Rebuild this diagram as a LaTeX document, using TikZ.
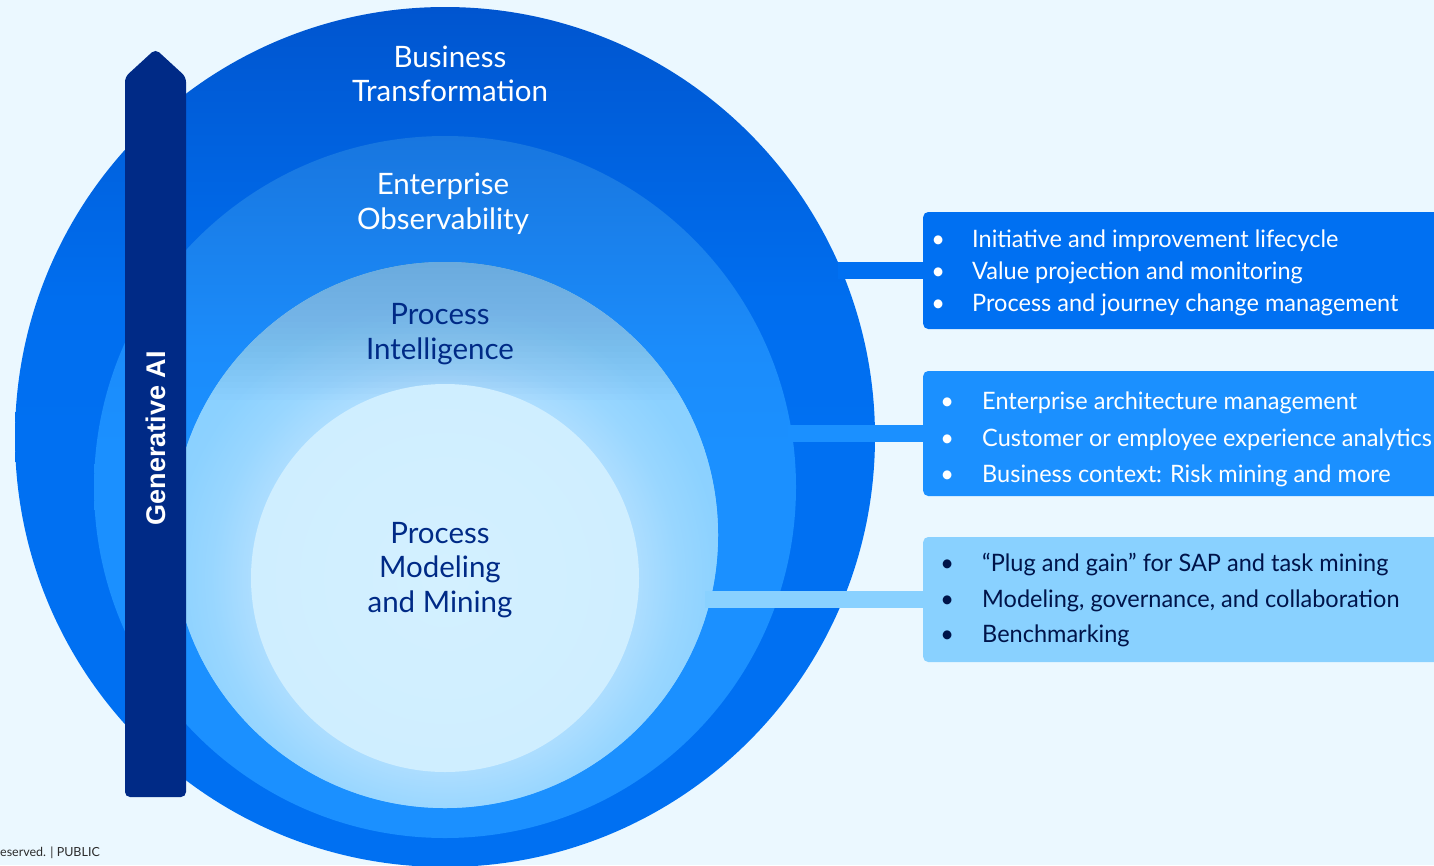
\documentclass[tikz,border=0pt]{standalone}
\usepackage{fontspec}
\setmainfont{Lato}
\newfontfamily\boxfont[FakeStretch=0.98]{Lato}
\newfontfamily\barfont{Liberation Sans}
\definecolor{bg}{HTML}{EBF8FF}
\definecolor{barblue}{HTML}{002A86}
\definecolor{boxa}{HTML}{0070F2}
\definecolor{boxb}{HTML}{1B90FF}
\definecolor{boxc}{HTML}{89D1FF}
\definecolor{navy}{HTML}{002A86}
\definecolor{deepnavy}{HTML}{00144A}
\definecolor{foot}{HTML}{2B2B2B}
\definecolor{etop}{HTML}{5E98D0}
\definecolor{fin}{HTML}{D3F0FF}
\definecolor{fout}{HTML}{CFEEFF}
\pgfdeclareverticalshading{ringA}{100bp}{%
  rgb(0bp)=(0,0.439,0.949); rgb(50bp)=(0,0.439,0.949); rgb(58bp)=(0,0.431,0.937);
  rgb(66.7bp)=(0,0.384,0.875); rgb(75bp)=(0,0.333,0.812); rgb(100bp)=(0,0.333,0.812)}
\pgfdeclareverticalshading{ringB}{100bp}{%
  rgb(0bp)=(0.106,0.565,1); rgb(52.6bp)=(0.106,0.565,1); rgb(59.8bp)=(0.106,0.549,0.984);
  rgb(66.9bp)=(0.102,0.510,0.933); rgb(75bp)=(0.094,0.463,0.875); rgb(100bp)=(0.094,0.463,0.875)}
\pgfdeclareradialshading{glow}{\pgfpoint{0bp}{0bp}}{%
  rgb(0bp)=(0.675,0.867,1); rgb(14.7bp)=(0.675,0.867,1); rgb(17.6bp)=(0.600,0.841,1);
  rgb(20.8bp)=(0.549,0.821,1); rgb(24.2bp)=(0.537,0.820,1); rgb(50bp)=(0.537,0.820,1)}
\begin{document}
\begin{tikzpicture}[x=1pt,y=-1pt,
  ring/.style={circle, inner sep=0pt, draw=none},
  lbl/.style={align=center, inner sep=0pt, font=\fontsize{29.5}{34.5}\selectfont},
  infobox/.style={anchor=west, rounded corners=5pt, minimum width=560pt, inner sep=0pt},
  boxtext/.style={anchor=west, align=left, inner sep=0pt},
  conn/.style={line width=17pt}
]
\useasboundingbox (0,0) rectangle (1434,865);
\fill[bg] (0,0) rectangle (1434,865);

% rings
\node[ring, minimum size=860pt, shade, shading=ringA] (c1) at (445,437) {};
\node[ring, minimum size=702pt, shade, shading=ringB] (c2) at (445,487) {};
\node[ring, minimum size=546pt, fill=boxc] (c3) at (445,535) {};
\begin{scope}
  \clip (c3.center) circle[radius=273];
  \shade[shading=glow] (445,578) circle[radius=330];
  \foreach \k in {1,...,23}
    \fill[etop, fill opacity=0.034] (150,250) rectangle (740,262+6*\k);
\end{scope}
\node[ring, minimum size=388pt, inner color=fin, outer color=fout] (c4) at (445,578) {};

% ring labels
\node[lbl, text=white] (l1) at (450,74) {Business\\Transformation};
\node[lbl, text=white] (l2) at (443,204) {Enterprise\\Observability};
\node[lbl, text=navy] (l3) at (440,334) {Process\\Intelligence};
\node[lbl, text=navy] (l4) at (440,570) {Process\\Modeling\\and Mining};

% connector ends
\coordinate (k1) at (838,270.5);
\coordinate (k2) at (788,433.5);
\coordinate (k3) at (705,599.5);

% info boxes
\node[infobox, fill=boxa, minimum height=117pt] (box1) at (923,270.5) {};
\node[infobox, fill=boxb, minimum height=125pt] (box2) at (923,433.5) {};
\node[infobox, fill=boxc, minimum height=125pt] (box3) at (923,599.5) {};

\draw[conn, boxa] (k1) -- (box1.west);
\draw[conn, boxb] (k2) -- (box2.west);
\draw[conn, boxc] (k3) -- (box3.west);

\node[boxtext, text=white, font=\boxfont\fontsize{24}{32}\selectfont] (t1) at (938,272.5)
 {\makebox[0pt][c]{•}\hspace{34pt}Initiative and improvement lifecycle\\
  \makebox[0pt][c]{•}\hspace{34pt}Value projection and monitoring\\
  \makebox[0pt][c]{•}\hspace{34pt}Process and journey change management};
\node[boxtext, text=white, font=\boxfont\fontsize{24}{36.5}\selectfont] (t2) at (947,439.5)
 {\makebox[0pt][c]{•}\hspace{35pt}Enterprise architecture management\\
  \makebox[0pt][c]{•}\hspace{35pt}Customer or employee experience analytics\\
  \makebox[0pt][c]{•}\hspace{35pt}Business context: Risk mining and more};
\node[boxtext, text=deepnavy, font=\boxfont\fontsize{24}{35.5}\selectfont] (t3) at (947,600.5)
 {\makebox[0pt][c]{•}\hspace{35pt}“Plug and gain” for SAP and task mining\\
  \makebox[0pt][c]{•}\hspace{35pt}Modeling, governance, and collaboration\\
  \makebox[0pt][c]{•}\hspace{35pt}Benchmarking};

% Generative AI bar
\fill[barblue, rounded corners=5pt] (125,77) -- (155.5,49) -- (186,77) -- (186,797) -- (125,797) -- cycle;
\node[rotate=90, text=white, inner sep=0pt, font=\barfont\bfseries\fontsize{27}{30}\selectfont] (gai) at (155.5,438) {Generative AI};

% footer
\node[anchor=west, inner sep=0pt, text=foot, font=\fontsize{12.5}{14}\selectfont] (ft) at (0,853) {eserved. | PUBLIC};
\end{tikzpicture}
\end{document}
